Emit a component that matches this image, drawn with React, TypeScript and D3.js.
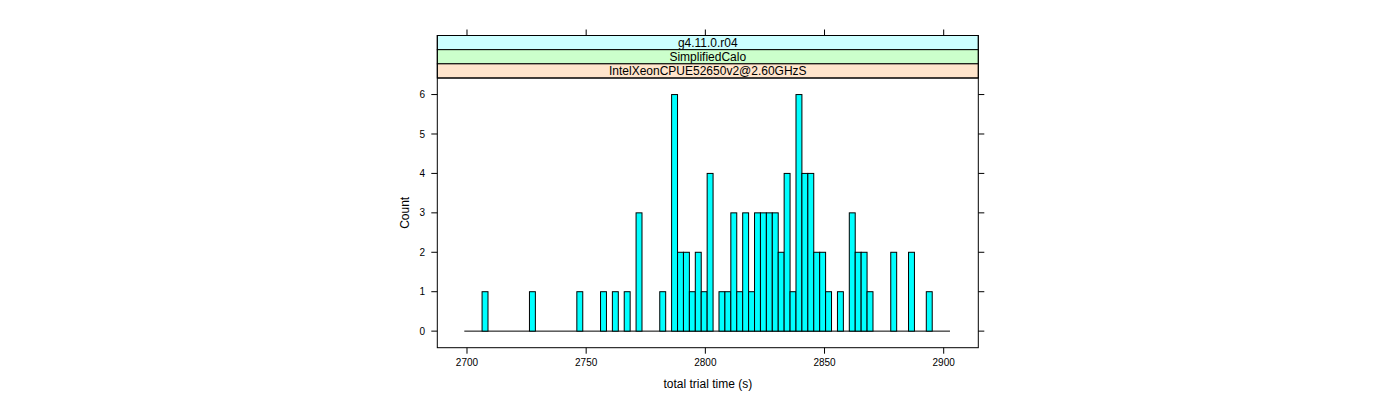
import React from "react";
import * as d3 from "d3";

const stripLabels = ["g4.11.0.r04", "SimplifiedCalo", "IntelXeonCPUE52650v2@2.60GHzS"];
const stripColors = ["#ccffff", "#ccffcc", "#ffe5cc"];
const xTicks = [2700, 2750, 2800, 2850, 2900];
const yTicks = [0, 1, 2, 3, 4, 5, 6];
const breakStart = 2698.87;
const binWidth = 2.485;
const counts = [
  0, 0, 0, 1, 0, 0, 0, 0, 0, 0,
  0, 1, 0, 0, 0, 0, 0, 0, 0, 1,
  0, 0, 0, 1, 0, 1, 0, 1, 0, 3,
  0, 0, 0, 1, 0, 6, 2, 2, 1, 2,
  1, 4, 0, 1, 1, 3, 1, 3, 1, 3,
  3, 3, 3, 2, 4, 1, 6, 4, 4, 2,
  2, 1, 0, 1, 0, 3, 2, 2, 1, 0,
  0, 0, 2, 0, 0, 2, 0, 0, 1, 0,
  0, 0,
];
const xLabel = "total trial time (s)";
const yLabel = "Count";

export default function App() {
  const left = 437.3, right = 978.3;
  const frameTop = 35.5, plotTop = 78, bottom = 347.7;
  const stripH = (plotTop - frameTop) / 3;
  const x = d3.scaleLinear().domain([2687.54, 2914.52]).range([left, right]);
  const y = d3.scaleLinear().domain([-0.42, 6.42]).range([bottom, plotTop]);
  const font = "'Liberation Sans', Arial, Helvetica, sans-serif";
  const cx = (left + right) / 2;
  const bins = counts.map((c, i) => ({ x0: breakStart + i * binWidth, x1: breakStart + (i + 1) * binWidth, c }));
  return (
    <svg width={1400} height={400} style={{ position: "absolute", left: 0, top: 0, background: "#fff" }} fontFamily={font}>
      {/* strips */}
      {stripLabels.map((s, i) => (
        <g key={s}>
          <rect x={left} y={frameTop + i * stripH} width={right - left} height={stripH} fill={stripColors[i]} stroke="#000" strokeWidth={1} />
          <text x={cx} y={frameTop + i * stripH + stripH / 2 + 4.2} textAnchor="middle" fontSize={12} fill="#000">{s}</text>
        </g>
      ))}
      {/* bars */}
      <line x1={x(bins[0].x0)} x2={x(bins[bins.length - 1].x1)} y1={y(0)} y2={y(0)} stroke="#000" strokeWidth={1} />
      {bins.filter(b => b.c > 0).map((b, i) => (
        <rect key={i} x={x(b.x0)} y={y(b.c)} width={x(b.x1) - x(b.x0)} height={y(0) - y(b.c)} fill="#00FFFF" stroke="#000" strokeWidth={1} />
      ))}
      {/* frame */}
      <rect x={left} y={frameTop} width={right - left} height={bottom - frameTop} fill="none" stroke="#000" strokeWidth={1} />
      <line x1={left} x2={right} y1={plotTop} y2={plotTop} stroke="#000" strokeWidth={1} />
      {/* x ticks */}
      {xTicks.map(t => (
        <g key={t}>
          <line x1={x(t)} x2={x(t)} y1={bottom} y2={bottom + 6} stroke="#000" />
          <line x1={x(t)} x2={x(t)} y1={frameTop} y2={frameTop - 6} stroke="#000" />
          <text x={x(t)} y={366} textAnchor="middle" fontSize={10}>{t}</text>
        </g>
      ))}
      {/* y ticks */}
      {yTicks.map(t => (
        <g key={t}>
          <line x1={left - 6} x2={left} y1={y(t)} y2={y(t)} stroke="#000" />
          <line x1={right} x2={right + 6} y1={y(t)} y2={y(t)} stroke="#000" />
          <text x={425} y={y(t) + 3.6} textAnchor="end" fontSize={10}>{t}</text>
        </g>
      ))}
      <text x={cx} y={388} textAnchor="middle" fontSize={12}>{xLabel}</text>
      <text transform={`translate(409, ${(plotTop + bottom) / 2}) rotate(-90)`} textAnchor="middle" fontSize={12}>{yLabel}</text>
    </svg>
  );
}
